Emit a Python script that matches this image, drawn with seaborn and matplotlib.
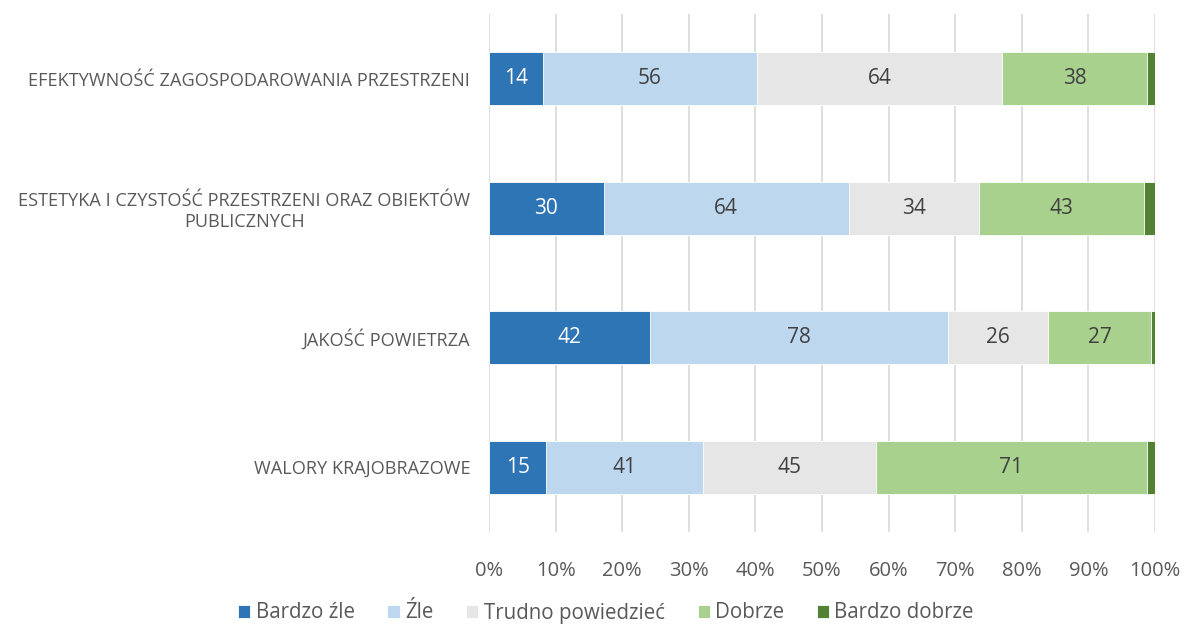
import numpy as np
import pandas as pd
import matplotlib.pyplot as plt
import seaborn as sns

# Data
categories = [
    'EFEKTYWNOŚĆ ZAGOSPODAROWANIA PRZESTRZENI',
    'ESTETYKA I CZYSTOŚĆ PRZESTRZENI ORAZ OBIEKTÓW\nPUBLICZNYCH',
    'JAKOŚĆ POWIETRZA',
    'WALORY KRAJOBRAZOWE',
]
series_names = ['Bardzo źle', 'Źle', 'Trudno powiedzieć', 'Dobrze', 'Bardzo dobrze']
bardzo_zle = [14, 30, 42, 15]
zle = [56, 64, 78, 41]
trudno = [64, 34, 26, 45]
dobrze = [38, 43, 27, 71]
bardzo_dobrze = [2, 3, 1, 2]

colors = ['#2E75B6', '#BDD7EE', '#E7E6E6', '#A9D18E', '#548235']
label_colors = ['white', '#404040', '#404040', '#404040', None]
text_color = '#595959'

sns.set_theme(style='white')
plt.rcParams['font.family'] = ['Open Sans', 'DejaVu Sans']

counts = np.array([bardzo_zle, zle, trudno, dobrze, bardzo_dobrze], dtype=float)
share = counts / counts.sum(axis=0) * 100
cum = share.cumsum(axis=0)

fig = plt.figure(figsize=(11.84, 6.25), dpi=100)
ax = fig.add_axes([489 / 1184, 1 - 532 / 625, 666 / 1184, 518 / 625])

# stacked bars: draw cumulative totals from the widest down
for i in range(len(series_names) - 1, -1, -1):
    df = pd.DataFrame({'cat': categories, 'val': cum[i]})
    sns.barplot(data=df, x='val', y='cat', orient='h', color=colors[i],
                width=0.41, ax=ax, saturation=1, edgecolor='white',
                linewidth=0.6, label=series_names[i], zorder=3)

# value labels in the middle of each segment
for i in range(len(series_names)):
    if label_colors[i] is None:
        continue
    for j in range(len(categories)):
        mid = cum[i][j] - share[i][j] / 2
        ax.text(mid, j, f'{int(counts[i][j])}', ha='center', va='center',
                fontsize=15, color=label_colors[i], zorder=4)

ax.set_xlim(0, 100)
ax.set_ylim(3.5, -0.5)
ax.set_xticks(np.arange(0, 101, 10))
ax.set_xticklabels([f'{v}%' for v in range(0, 101, 10)])
ax.xaxis.grid(True, color='#D9D9D9', linewidth=1.2, zorder=0)
ax.yaxis.grid(False)
for s in ax.spines.values():
    s.set_visible(False)
ax.set_xlabel('')
ax.set_ylabel('')
ax.tick_params(axis='x', length=0, pad=21, labelsize=14.5, labelcolor=text_color)
ax.tick_params(axis='y', length=0, pad=13.5, labelsize=13.1, labelcolor=text_color)
for lbl in ax.get_yticklabels():
    lbl.set_multialignment('center')

handles, labels = ax.get_legend_handles_labels()
ax.legend_.remove()
order = [labels.index(n) for n in series_names]
fig.legend([handles[k] for k in order], series_names, loc='center',
           bbox_to_anchor=(606 / 1184, 1 - 613 / 625), ncol=5, frameon=False,
           fontsize=14.8, labelcolor=text_color, handlelength=0.6,
           handleheight=0.6, handletextpad=0.25, columnspacing=1.6,
           borderpad=0)

fig.savefig('out.png', dpi=100)
